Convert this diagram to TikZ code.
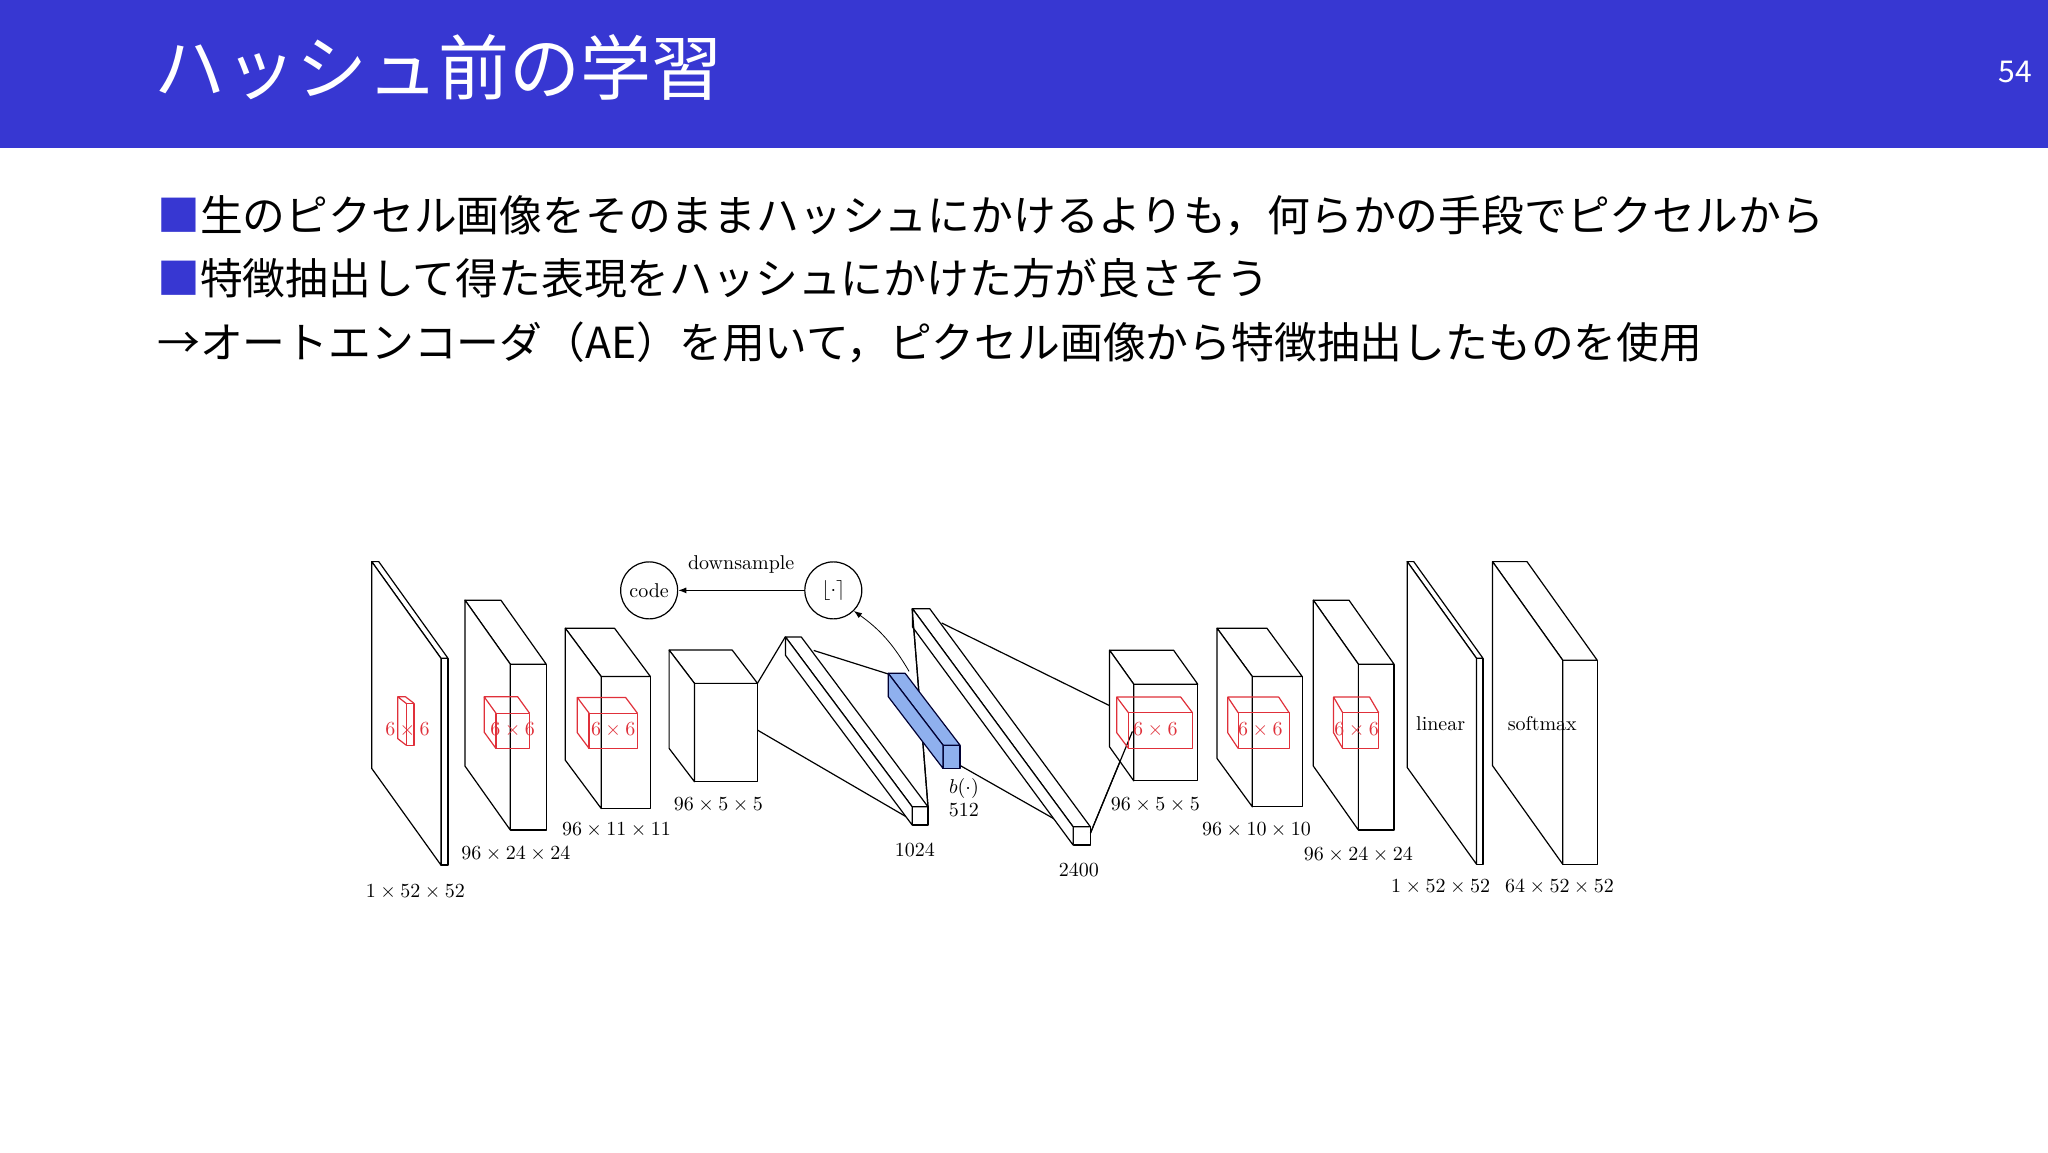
\documentclass[tikz,border=0pt]{standalone}
\usepackage{fontspec}
\newfontfamily\jp{Noto Sans CJK JP}
\usetikzlibrary{arrows.meta}
\definecolor{hdr}{HTML}{3737D2}
\definecolor{bluebar}{HTML}{8FB0EE}
\definecolor{redbox}{HTML}{E0303A}
\newcommand\cub[7]{%
 \filldraw[draw=#1,fill=white,line join=round] (#2,#3) rectangle (#4,#5);
 \filldraw[draw=#1,fill=white,line join=round] (#2,#3) -- ([shift={(#6,#7)}]#2,#3) -- ([shift={(#6,#7)}]#4,#3) -- (#4,#3) -- cycle;
 \filldraw[draw=#1,fill=white,line join=round] (#2,#3) -- ([shift={(#6,#7)}]#2,#3) -- ([shift={(#6,#7)}]#2,#5) -- (#2,#5) -- cycle;}
\newcommand\rcub[7]{%
 \draw[draw=#1,line join=round] (#2,#3) rectangle (#4,#5);
 \draw[draw=#1,line join=round] (#2,#3) -- ([shift={(#6,#7)}]#2,#3) -- ([shift={(#6,#7)}]#4,#3) -- (#4,#3);
 \draw[draw=#1,line join=round] ([shift={(#6,#7)}]#2,#3) -- ([shift={(#6,#7)}]#2,#5) -- (#2,#5);}
\newcommand\bcub[7]{%
 \filldraw[draw=black!80!blue,fill=#1,line join=round] (#2,#3) rectangle (#4,#5);
 \filldraw[draw=black!80!blue,fill=#1,line join=round] (#2,#3) -- ([shift={(#6,#7)}]#2,#3) -- ([shift={(#6,#7)}]#4,#3) -- (#4,#3) -- cycle;
 \filldraw[draw=black!80!blue,fill=#1,line join=round] (#2,#3) -- ([shift={(#6,#7)}]#2,#3) -- ([shift={(#6,#7)}]#2,#5) -- (#2,#5) -- cycle;}
\begin{document}
\begin{tikzpicture}[x=0.65306pt,y=-0.65306pt,
  lab/.style={font=\fontsize{10}{12}\selectfont,inner sep=0pt},
  rlab/.style={font=\fontsize{10}{12}\selectfont,text=redbox,inner sep=0pt},
  body/.style={font=\jp\fontsize{21.4}{24}\selectfont,anchor=west,inner sep=0pt},
  circ/.style={circle,draw,minimum size=28.5pt,inner sep=0pt,font=\fontsize{10}{12}\selectfont},
  line width=0.6pt]
\useasboundingbox (0,0) rectangle (1568,882);
\fill[hdr] (0,0) rectangle (1568,113);
\node[anchor=west,text=white,font=\jp\fontsize{35.5}{40}\selectfont,inner sep=0pt] (title) at (118,52) {ハッシュ前の学習};
\node[anchor=east,text=white,font=\jp\fontsize{15}{18}\selectfont,inner sep=0pt] (pg) at (1556,55) {54};
\node[body] (b1) at (120,165) {\textcolor{hdr}{■}生のピクセル画像をそのままハッシュにかけるよりも，何らかの手段でピクセルから};
\node[body] (b2) at (120,213) {\textcolor{hdr}{■}特徴抽出して得た表現をハッシュにかけた方が良さそう};
\node[body] (b3) at (120,262) {→オートエンコーダ（AE）を用いて，ピクセル画像から特徴抽出したものを使用};

% connecting lines
\coordinate (p4tr) at (580,523); \coordinate (p4r) at (580,559);
\coordinate (b1tl) at (601.3,487.5); \coordinate (b1bl) at (698.4,628);
\coordinate (b1t) at (623,498); \coordinate (b1fr) at (710.5,617.7);
\coordinate (blt) at (680,516); \coordinate (blb) at (735,586);
\coordinate (b2tl) at (698.4,466); \coordinate (b2tr) at (721,477); \coordinate (b2b) at (823,636);
\coordinate (b2fr) at (834.8,638); \coordinate (p5l) at (849,540); \coordinate (p5r) at (867,560);
\draw (p4tr) -- (b1tl); \draw (p4r) -- (b1bl);
\draw (b1t) -- (blt); \draw (blb) -- (b2b);
\draw (b1fr) -- (b2tl);
\draw (b2tr) -- (p5l); \draw (b2fr) -- (p5r);

% left panels
\cub{black}{337.6}{504}{343}{662.3}{-53}{-74}
\rcub{redbox}{311}{538.5}{317}{570.5}{-6.5}{-5}
\node[rlab] (r1) at (312,559) {$6\times6$};
\cub{black}{390.7}{508.5}{418.2}{635.5}{-34.7}{-49}
\rcub{redbox}{379.7}{546}{405.4}{573}{-9}{-12.5}
\node[rlab] (r2) at (392.5,559) {$6\times6$};
\cub{black}{460.3}{518}{498}{619}{-27.5}{-37}
\rcub{redbox}{451}{546}{488}{573}{-9}{-12}
\node[rlab] (r3) at (469.5,559) {$6\times6$};
\cub{black}{531.7}{523.2}{580}{598.5}{-19.4}{-25.5}
% bars
\cub{black}{698.4}{617.7}{710.5}{631.7}{-97}{-130}
\cub{black}{821.6}{633}{834.8}{647}{-123}{-167}
\draw (b1fr) -- (b2tl);
\bcub{bluebar}{722}{570.5}{735}{588.3}{-42}{-55}
% right panels
\cub{black}{868}{523.8}{917}{597.8}{-18.5}{-26}
\draw (b2fr) -- (p5r);
\rcub{redbox}{864}{545.7}{913}{573}{-9}{-12}
\node[rlab] (r5) at (884.6,559) {$6\times6$};
\cub{black}{958.8}{518}{997}{617.7}{-27}{-37}
\rcub{redbox}{948}{545.7}{987}{573}{-8}{-12}
\node[rlab] (r6) at (965,559) {$6\times6$};
\cub{black}{1040}{508.5}{1067.3}{635.5}{-34.5}{-49}
\rcub{redbox}{1028}{545.7}{1055.6}{573}{-7}{-12}
\node[rlab] (r7) at (1038.6,559) {$6\times6$};
\cub{black}{1130.4}{504}{1135.4}{661.6}{-53}{-74}
\node[lab] (lin) at (1103,554) {linear};
\cub{black}{1196.4}{505.4}{1222.8}{661.6}{-53.7}{-75.4}
\node[lab] (sm) at (1180.8,554) {softmax};

% labels
\node[lab] (l1) at (318,683) {$1\times52\times52$};
\node[lab] (l2) at (395,654) {$96\times24\times24$};
\node[lab] (l3) at (472,635) {$96\times11\times11$};
\node[lab] (l4) at (550,616) {$96\times5\times5$};
\node[lab] (l5) at (700.5,651) {$1024$};
\node[lab] (l6) at (738,604) {$b(\cdot)$};
\node[lab] (l7) at (738,620) {$512$};
\node[lab] (l8) at (826,666) {$2400$};
\node[lab] (l9) at (884.6,616) {$96\times5\times5$};
\node[lab] (l10) at (962,635.5) {$96\times10\times10$};
\node[lab] (l11) at (1040,654.7) {$96\times24\times24$};
\node[lab] (l12) at (1103,679) {$1\times52\times52$};
\node[lab] (l13) at (1194,679) {$64\times52\times52$};

% code path
\node[circ] (code) at (497,452) {code};
\node[circ] (hc) at (638,452) {$\lfloor\cdot\rceil$};
\draw[-{Latex[length=4pt]}] (hc) -- node[lab,above=8pt] (ds) {downsample} (code);
\coordinate (bls) at (696,514);
\draw[-{Latex[length=4pt]},line width=0.4pt] (bls) to[bend right=12] (hc.south east);
\end{tikzpicture}
\end{document}
